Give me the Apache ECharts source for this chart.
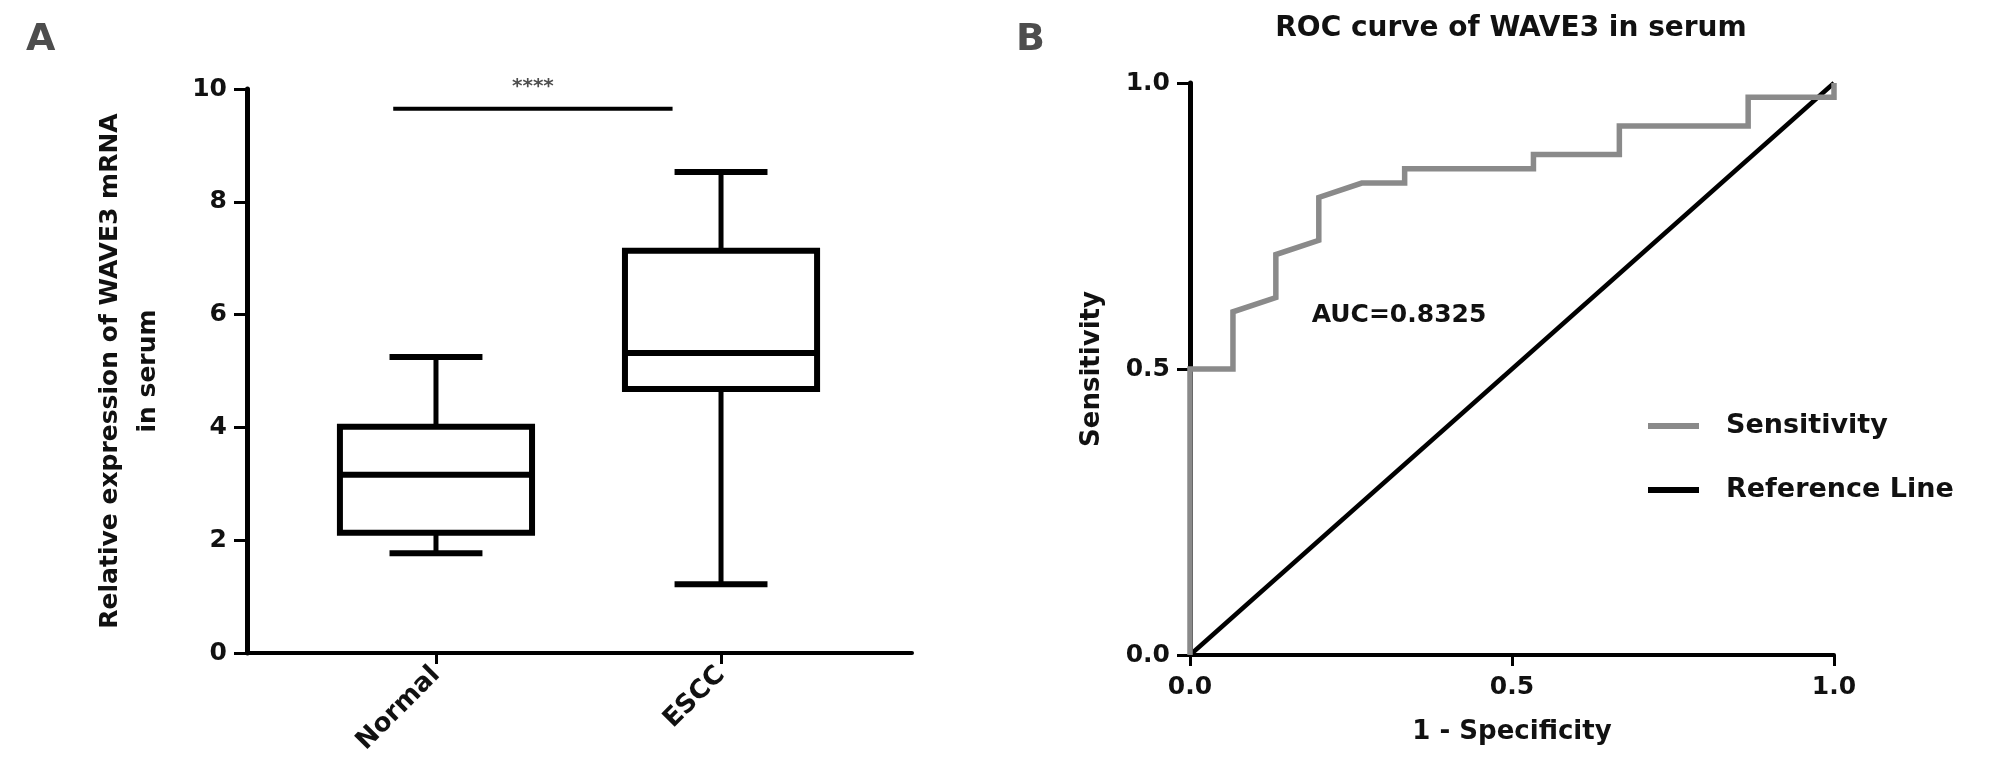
<!DOCTYPE html>
<html>
<head>
<meta charset="utf-8">
<script src="https://cdn.jsdelivr.net/npm/echarts@6/dist/echarts.min.js"></script>
<style>
html,body{margin:0;padding:0;background:#fff;}
#chart{width:2008px;height:778px;}
</style>
</head>
<body>
<div id="chart"></div>
<script>
// ---------- Data: panel A (box plot) ----------
const categories = ['Normal', 'ESCC'];
const whiskerLow = [1.77, 1.22];
const q1 = [2.13, 4.68];
const median = [3.16, 5.32];
const q3 = [4.01, 7.13];
const whiskerHigh = [5.25, 8.53];
const yTicksA = [0, 2, 4, 6, 8, 10];
const sigBarX = [0.85, 1.83];
const sigBarY = 9.65;
const sigText = '****';

// ---------- Data: panel B (ROC) ----------
const rocFpr = [0, 0, 0.0667, 0.0667, 0.1333, 0.1333, 0.2, 0.2, 0.2667, 0.3333, 0.3333, 0.5333, 0.5333, 0.6667, 0.6667, 0.8667, 0.8667, 1, 1];
const rocTpr = [0, 0.5, 0.5, 0.6, 0.625, 0.7, 0.725, 0.8, 0.825, 0.825, 0.85, 0.85, 0.875, 0.875, 0.925, 0.925, 0.975, 0.975, 1];
const refX = [0, 1];
const refY = [0, 1];
const aucText = 'AUC=0.8325';
const rocTitle = 'ROC curve of WAVE3 in serum';

// ---------- Styles ----------
const FONT = 'DejaVu Sans';
const BLACK = '#000';
const TXT = '#111';
const GRAY = '#8a8a8a';
const BOX_W = 0.674;   // box width, in category spacing units
const CAP_W = 0.326;   // whisker cap width

const boxData = categories.map((c, i) => [i + 1, whiskerLow[i], q1[i], median[i], q3[i], whiskerHigh[i]]);

function renderBox(params, api) {
  const x = api.value(0);
  const halfBox = api.size([BOX_W, 0])[0] / 2;
  const halfCap = api.size([CAP_W, 0])[0] / 2;
  const pLow = api.coord([x, api.value(1)]);
  const pQ1 = api.coord([x, api.value(2)]);
  const pMed = api.coord([x, api.value(3)]);
  const pQ3 = api.coord([x, api.value(4)]);
  const pHigh = api.coord([x, api.value(5)]);
  const cx = pMed[0];
  const st = {stroke: BLACK, lineWidth: 6, fill: null};
  return {
    type: 'group',
    children: [
      {type: 'line', shape: {x1: cx, y1: pHigh[1], x2: cx, y2: pQ3[1]}, style: {stroke: BLACK, lineWidth: 5}},
      {type: 'line', shape: {x1: cx, y1: pQ1[1], x2: cx, y2: pLow[1]}, style: {stroke: BLACK, lineWidth: 5}},
      {type: 'line', shape: {x1: cx - halfCap, y1: pHigh[1], x2: cx + halfCap, y2: pHigh[1]}, style: st},
      {type: 'line', shape: {x1: cx - halfCap, y1: pLow[1], x2: cx + halfCap, y2: pLow[1]}, style: st},
      {type: 'rect', shape: {x: cx - halfBox, y: pQ3[1], width: 2 * halfBox, height: pQ1[1] - pQ3[1]}, style: {stroke: BLACK, lineWidth: 6, fill: '#fff'}},
      {type: 'line', shape: {x1: cx - halfBox, y1: pMed[1], x2: cx + halfBox, y2: pMed[1]}, style: st}
    ]
  };
}

const chart = echarts.init(document.getElementById('chart'), null, {renderer: 'canvas'});

const xAxisLine = {show: true, lineStyle: {color: BLACK, width: 4}};
const yAxisLine = {show: true, lineStyle: {color: BLACK, width: 5}};
const tickStyle = {show: true, inside: false, length: 13, lineStyle: {color: BLACK, width: 3}};
const tickLabel = {fontFamily: FONT, fontWeight: 'bold', fontSize: 25, color: TXT};

const option = {
  animation: false,
  backgroundColor: '#fff',
  grid: [
    {left: 247, top: 89, width: 665, height: 564},
    {left: 1190, top: 83, width: 644, height: 572}
  ],
  xAxis: [
    {
      gridIndex: 0, type: 'value', min: 0.337, max: 2.67,
      axisLine: xAxisLine,
      axisTick: Object.assign({}, tickStyle, {length: 11, customValues: [1, 2]}),
      axisLabel: Object.assign({}, tickLabel, {fontSize: 26, rotate: 45, margin: 18,
        customValues: [1, 2],
        formatter: v => categories[Math.round(v) - 1] || ''}),
      splitLine: {show: false}
    },
    {
      gridIndex: 1, type: 'value', min: 0, max: 1, interval: 0.5,
      axisLine: xAxisLine,
      axisTick: Object.assign({}, tickStyle, {length: 11}),
      axisLabel: Object.assign({}, tickLabel, {margin: 20, formatter: v => v.toFixed(1)}),
      splitLine: {show: false},
      name: '1 - Specificity', nameLocation: 'middle', nameGap: 64,
      nameTextStyle: {fontFamily: FONT, fontWeight: 'bold', fontSize: 26, color: TXT}
    }
  ],
  yAxis: [
    {
      gridIndex: 0, type: 'value', min: 0, max: 10, interval: 2,
      axisLine: yAxisLine,
      axisTick: tickStyle,
      axisLabel: Object.assign({}, tickLabel, {margin: 20}),
      splitLine: {show: false},
      name: 'Relative expression of WAVE3 mRNA\nin serum', nameLocation: 'middle', nameGap: 80, nameRotate: 90,
      nameTextStyle: {fontFamily: FONT, fontWeight: 'bold', fontSize: 25, color: TXT, lineHeight: 38, align: 'center'}
    },
    {
      gridIndex: 1, type: 'value', min: 0, max: 1, interval: 0.5,
      axisLine: yAxisLine,
      axisTick: tickStyle,
      axisLabel: Object.assign({}, tickLabel, {margin: 20, formatter: v => v.toFixed(1)}),
      splitLine: {show: false},
      name: 'Sensitivity', nameLocation: 'middle', nameGap: 85, nameRotate: 90,
      nameTextStyle: {fontFamily: FONT, fontWeight: 'bold', fontSize: 26, color: TXT}
    }
  ],
  legend: {
    orient: 'vertical', left: 1643, top: 406, itemWidth: 51, itemHeight: 6, itemGap: 34, icon: 'rect',
    data: ['Sensitivity', 'Reference Line'],
    textStyle: {fontFamily: FONT, fontWeight: 'bold', fontSize: 27, color: TXT, lineHeight: 30, padding: [0, 0, 0, 22]}
  },
  graphic: [
    {type: 'text', left: 26, top: 21, style: {text: 'A', fontFamily: FONT, fontWeight: 'bold', fontSize: 38, fill: '#4d4d4d'}},
    {type: 'text', left: 1016, top: 21, style: {text: 'B', fontFamily: FONT, fontWeight: 'bold', fontSize: 38, fill: '#4d4d4d'}},
    {type: 'text', x: 1511, y: 29, style: {text: rocTitle, fontFamily: FONT, fontWeight: 'bold', fontSize: 28, fill: TXT, textAlign: 'center', textVerticalAlign: 'middle'}},
    {type: 'text', x: 1399, y: 315, style: {text: aucText, fontFamily: FONT, fontWeight: 'bold', fontSize: 25, fill: TXT, textAlign: 'center', textVerticalAlign: 'middle'}}
  ],
  series: [
    {
      type: 'custom', xAxisIndex: 0, yAxisIndex: 0, renderItem: renderBox,
      data: boxData, clip: false, silent: true
    },
    {
      type: 'line', xAxisIndex: 0, yAxisIndex: 0, symbol: 'none', silent: true,
      data: sigBarX.map(x => [x, sigBarY]),
      lineStyle: {color: BLACK, width: 4}
    },
    {
      type: 'scatter', xAxisIndex: 0, yAxisIndex: 0, symbolSize: 0, silent: true,
      data: [[(sigBarX[0] + sigBarX[1]) / 2, sigBarY]],
      label: {show: true, position: 'top', distance: 12, formatter: sigText, fontFamily: FONT, fontWeight: 'bold', fontSize: 20, color: '#222'}
    },
    {
      name: 'Reference Line', type: 'line', xAxisIndex: 1, yAxisIndex: 1, symbol: 'none', clip: false,
      data: refX.map((x, i) => [x, refY[i]]),
      lineStyle: {color: BLACK, width: 4.5}, itemStyle: {color: BLACK}
    },
    {
      name: 'Sensitivity', type: 'line', xAxisIndex: 1, yAxisIndex: 1, symbol: 'none', clip: false,
      data: rocFpr.map((x, i) => [x, rocTpr[i]]),
      lineStyle: {color: GRAY, width: 5.5, join: 'miter'}, itemStyle: {color: GRAY}
    }
  ]
};
chart.setOption(option);
</script>
</body>
</html>
